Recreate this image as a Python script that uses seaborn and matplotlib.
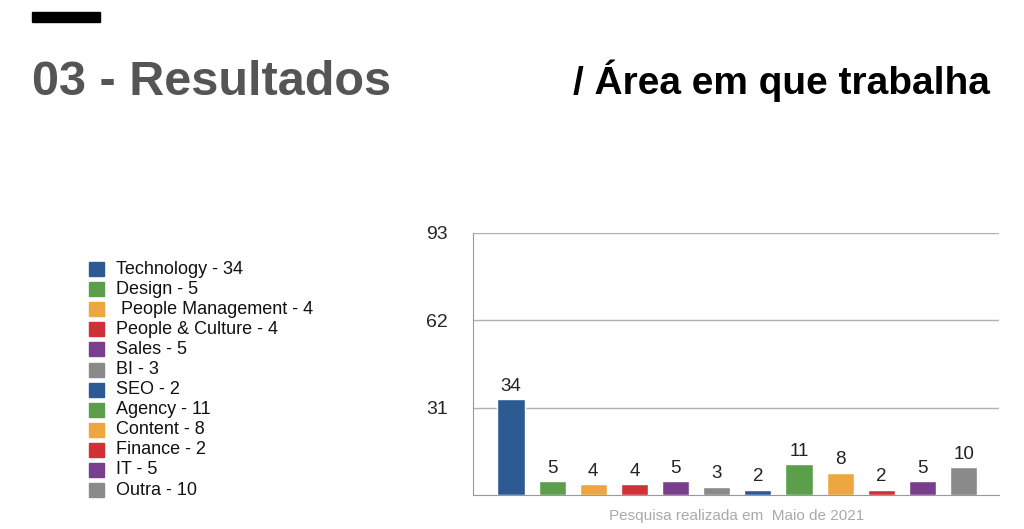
import matplotlib
matplotlib.use("Agg")
import matplotlib.pyplot as plt
from matplotlib.patches import Rectangle
import seaborn as sns
import pandas as pd

categories = ["Technology", "Design", " People Management", "People & Culture", "Sales", "BI",
              "SEO", "Agency", "Content", "Finance", "IT", "Outra"]
values = [34, 5, 4, 4, 5, 3, 2, 11, 8, 2, 5, 10]
colors = ["#2d5a93", "#5c9e4c", "#eea740", "#cf3137", "#7a3f8c", "#8a8a8a",
          "#2d5a93", "#5c9e4c", "#eea740", "#cf3137", "#7a3f8c", "#8a8a8a"]
yticks = [31, 62, 93]

sns.set_style("white")
plt.rcParams['font.family'] = ['Liberation Sans', 'DejaVu Sans']

fig = plt.figure(figsize=(10.24, 5.29), dpi=100)
ax = fig.add_axes([0.462, 0.064, 0.514, 0.496])

df = pd.DataFrame({"cat": categories, "val": values})
sns.barplot(data=df, x="cat", y="val", hue="cat", palette=colors, legend=False,
            width=0.66, ax=ax, saturation=1)
for i, v in enumerate(values):
    ax.text(i, v + 1.5, str(v), ha="center", va="bottom", fontsize=13.5, color="#222222")

ax.set_xlim(-0.92, 11.87)
ax.set_ylim(0, 93)
ax.set_yticks(yticks)
ax.set_yticklabels([str(t) for t in yticks], fontsize=14)
ax.tick_params(axis="y", length=0, pad=18)
ax.set_xticks([])
ax.set_xlabel("")
ax.set_ylabel("")
ax.yaxis.grid(True, color="#b0b0b0", linewidth=1)
ax.set_axisbelow(True)
for s in ["top", "right"]:
    ax.spines[s].set_visible(False)
for s in ["left", "bottom"]:
    ax.spines[s].set_color("#999999")

# legend
W, H = 1024, 529
for i, (c, v) in enumerate(zip(categories, values)):
    y = 269 + i * 20.1
    fig.patches.append(Rectangle((89 / W, 1 - (y + 7) / H), 15 / W, 14 / H,
                                 transform=fig.transFigure, color=colors[i]))
    fig.text(116 / W, 1 - y / H, f"{c} - {v}", fontsize=13, va="center", color="#111111")

# titles
fig.patches.append(Rectangle((32 / W, 1 - 22 / H), 68 / W, 10 / H,
                             transform=fig.transFigure, color="black"))
fig.text(32 / W, 1 - 83 / H, "03 - Resultados", fontsize=35, fontweight="bold",
         color="#555555", va="center")
fig.text(990 / W, 1 - 81 / H, "/ Área em que trabalha", fontsize=28, fontweight="bold",
         color="black", va="center", ha="right")
fig.text(737 / W, 1 - 516 / H, "Pesquisa realizada em  Maio de 2021", fontsize=11,
         color="#aaaaaa", ha="center", va="center")

fig.savefig("out.png", dpi=100)
